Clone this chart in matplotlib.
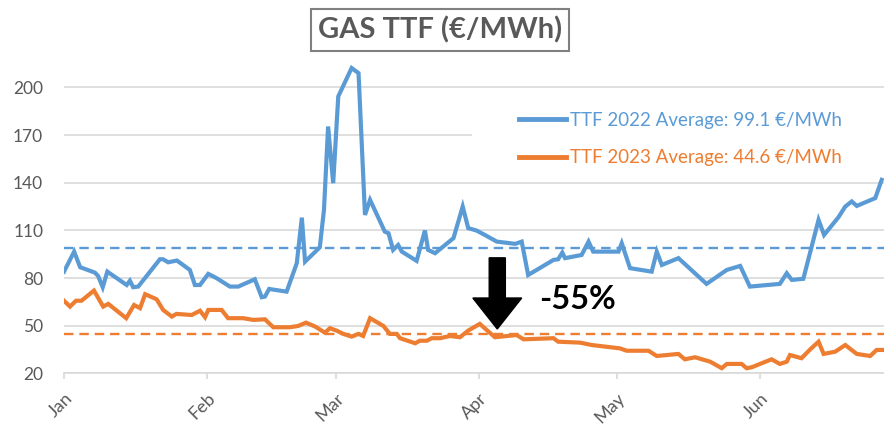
import matplotlib
matplotlib.use("Agg")
import matplotlib.pyplot as plt
from matplotlib.patches import FancyArrow, Rectangle
from matplotlib.lines import Line2D

# ---- data (x = days since Jan 1) ----
days_2022 = [0.0, 2.2, 3.5, 6.7, 7.4, 8.4, 9.4, 13.6, 14.3, 15.0, 16.1, 20.8, 21.5, 22.6, 24.5,
             27.3, 28.4, 29.5, 31.3, 33.1, 36.0, 37.8, 41.4, 42.9, 43.6, 44.5, 48.3, 50.5, 51.6,
             52.3, 55.5, 56.4, 57.3, 58.4, 59.5, 62.4, 63.9, 65.3, 66.4, 69.6, 70.4, 71.4, 72.5,
             73.3, 76.5, 78.3, 79.0, 80.5, 84.5, 86.5, 87.7, 89.5, 91.3, 93.9, 97.9, 99.3, 100.7,
             106.2, 107.2, 108.1, 108.7, 112.3, 113.8, 114.8, 120.3, 121.0, 122.8, 127.5, 128.6,
             129.7, 133.3, 136.5, 139.4, 141.2, 143.8, 146.7, 148.8, 155.3, 156.8, 157.9, 160.4,
             163.7, 164.9, 168.0, 169.5, 170.9, 172.0, 176.0, 177.4]
ttf_2022 = [84.0, 96.6, 86.8, 83.4, 81.3, 74.2, 84.0, 75.6, 78.3, 74.2, 74.6, 91.8, 91.8, 89.9, 91.0,
            85.1, 75.6, 75.6, 82.6, 79.9, 74.6, 74.6, 79.2, 67.9, 68.3, 73.1, 71.4, 89.3, 118.0,
            90.3, 99.3, 122.9, 175.4, 139.7, 194.3, 212.2, 209.0, 119.7, 129.2, 109.2, 108.2, 97.7, 100.8,
            96.6, 90.8, 109.9, 97.7, 95.6, 105.1, 125.0, 111.4, 109.9, 107.1, 102.9, 101.5, 102.9, 81.9,
            91.4, 91.8, 96.0, 92.5, 94.5, 102.9, 96.6, 96.6, 101.9, 86.2, 84.0, 96.6,
            88.2, 92.5, 84.0, 76.3, 79.9, 85.1, 87.6, 74.6, 76.3, 83.0, 78.8, 79.5,
            116.6, 107.1, 118.2, 125.0, 128.2, 125.4, 130.3, 141.8]

days_2023 = [0.0, 1.3, 2.6, 3.8, 6.5, 8.5, 9.6, 13.5, 15.2, 16.5, 17.6, 20.1, 21.5, 23.4, 24.4,
             27.7, 29.5, 30.6, 31.3, 34.2, 35.6, 38.9, 41.1, 43.6, 45.4, 49.0, 50.8, 52.5, 54.5,
             56.6, 57.7, 59.2, 60.6, 62.4, 63.9, 64.9, 66.4, 69.3, 70.7, 72.2, 72.9, 76.2, 77.2,
             78.7, 79.8, 81.6, 83.7, 85.9, 87.7, 90.2, 93.5, 98.2, 99.7, 106.2, 107.2, 112.0, 114.5,
             120.6, 122.1, 126.8, 128.6, 133.3, 134.7, 136.9, 140.2, 142.7, 143.8, 147.0, 148.1,
             149.2, 153.5, 155.3, 156.8, 157.5, 160.0, 161.9, 163.7, 164.8, 167.3, 169.5, 172.0,
             174.9, 176.3, 177.8]
ttf_2023 = [65.7, 62.0, 65.7, 65.7, 72.1, 62.0, 63.7, 54.7, 63.0, 61.0, 69.8, 66.6, 59.9, 55.7, 57.4,
            56.7, 59.4, 55.3, 59.9, 59.9, 54.7, 54.7, 53.6, 54.0, 49.0, 49.0, 49.8, 51.9, 49.4,
            45.6, 48.4, 46.8, 44.8, 43.1, 44.8, 43.5, 54.7, 49.8, 44.8, 44.8, 42.1, 38.9, 40.5,
            40.5, 42.1, 42.1, 43.5, 42.7, 46.9, 51.1, 42.7, 44.1, 41.4, 42.1, 39.9, 39.3, 37.8,
            35.7, 34.2, 34.2, 30.9, 32.2, 28.8, 30.1, 27.3, 23.2, 25.9, 25.9, 23.2,
            23.8, 28.8, 25.9, 27.3, 31.5, 29.5, 35.1, 39.9, 32.2, 33.6, 37.8, 32.2,
            30.9, 34.7, 34.7]

avg_2022 = 99.1
avg_2023 = 44.6
month_starts = [0, 31, 59, 90, 120, 151]
month_labels = ["Jan", "Feb", "Mar", "Apr", "May", "Jun"]
y_ticks = [20, 50, 80, 110, 140, 170, 200]
label_2022 = "TTF 2022 Average: 99.1 €/MWh"
label_2023 = "TTF 2023 Average: 44.6 €/MWh"
title = "GAS TTF (€/MWh)"
change_label = "-55%"

BLUE = "#5B9BD5"
ORANGE = "#ED7D31"
GRAY = "#595959"

plt.rcParams['font.family'] = ['Lato', 'DejaVu Sans']

fig = plt.figure(figsize=(8.84, 4.28), dpi=100)
ax = fig.add_axes([64/884, 54.7/428, 820/884, 311.3/428])

ax.set_xlim(0, 177.9)
ax.set_ylim(20, 216)

ax.set_axisbelow(True)
ax.yaxis.grid(True, color="#D9D9D9", linewidth=1.2, zorder=0.5)
for s in ["top", "right", "left"]:
    ax.spines[s].set_visible(False)
ax.spines["bottom"].set_color("#D9D9D9")
ax.spines["bottom"].set_linewidth(1.2)

# white legend area covering gridlines
ax.add_patch(Rectangle((0.4976, 0.63), 0.51, 0.255, transform=ax.transAxes,
                       facecolor="white", edgecolor="none", zorder=1))

ax.plot(days_2022, ttf_2022, color=BLUE, linewidth=3.0, zorder=3, solid_joinstyle="miter")
ax.plot(days_2023, ttf_2023, color=ORANGE, linewidth=3.0, zorder=3, solid_joinstyle="miter")
ax.axhline(avg_2022, color=BLUE, linewidth=1.7, linestyle=(0, (4, 2.5)), zorder=2)
ax.axhline(avg_2023, color=ORANGE, linewidth=1.7, linestyle=(0, (4, 2.5)), zorder=2)

ax.set_yticks(y_ticks)
ax.tick_params(axis="y", length=0, pad=15, labelsize=12.5, labelcolor=GRAY)
ax.set_xticks(month_starts)
ax.set_xticklabels(month_labels, rotation=45, ha="right", va="top", rotation_mode="anchor")
ax.tick_params(axis="x", length=4, width=1.2, color="#D9D9D9", pad=8, labelsize=13, labelcolor=GRAY)

# arrow and -55%
ax.add_patch(FancyArrow(94, 92.7, 0, -44.8, width=3.5, head_width=10.6, head_length=19.5,
                        length_includes_head=True, color="black", zorder=4))
ax.text(103, 66.5, change_label, fontsize=23.5, fontweight="bold", color="black",
        ha="left", va="center", zorder=5)

# legend
handles = [Line2D([], [], color=BLUE, linewidth=3.5), Line2D([], [], color=ORANGE, linewidth=3.5)]
leg = fig.legend(handles, [label_2022, label_2023], loc="center left",
                 bbox_to_anchor=(510/884, 1 - 139/428), frameon=False, fontsize=13.5,
                 handlelength=2.5, handletextpad=0.2, labelspacing=1.1, borderpad=0,
                 labelcolor=[BLUE, ORANGE])

# title
fig.text(440/884, 1 - 30/428, title, fontsize=21, fontweight="bold", color=GRAY,
         ha="center", va="center",
         bbox=dict(boxstyle="square,pad=0.25", facecolor="white", edgecolor="#808080", linewidth=1.5))

fig.savefig("out.png", dpi=100)
